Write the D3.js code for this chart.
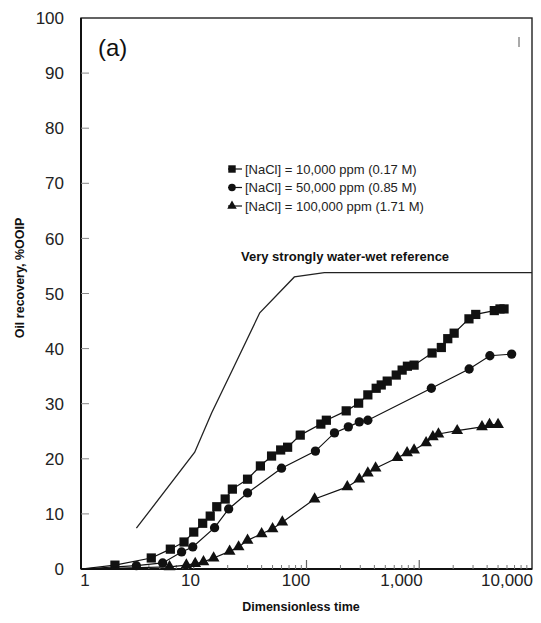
<!DOCTYPE html>
<meta charset="utf-8">
<style>
    body {
        margin: 0;
        background: #fff;
        font-family: "Liberation Sans", Arial, Helvetica, sans-serif;
    }
</style>
<body>
<script src="https://cdn.jsdelivr.net/npm/d3@7"></script>
<script>

// values (x = dimensionless time, y = %OOIP)
var reference = [[3.1, 7.4], [10.2, 21.2], [14.4, 28.3], [22, 36.1], [38.5, 46.5], [78, 53.0], [144, 53.8], [10000, 53.8]];

var low = [[1, 0], [2, 0.7], [4.2, 2.0], [6.2, 3.6], [8.2, 4.9], [10, 6.7], [12, 8.3], [14, 9.6], [16, 11.3],
    [19, 12.7], [22, 14.5], [30, 16.3], [39, 18.7], [49, 20.5], [59, 21.6], [68, 22.1], [88, 24.3],
    [134, 26.3], [150, 27.0], [225, 28.7], [290, 30.1], [350, 31.6], [415, 32.8], [460, 33.4], [520, 34.1],
    [625, 35.2], [705, 36.1], [785, 36.8], [900, 37.0], [1300, 39.2], [1570, 40.2], [1790, 41.8],
    [2040, 42.8], [2760, 45.4], [3170, 46.2], [4630, 46.9], [5200, 47.2], [5650, 47.2]];

var mid = [[1, 0], [3.1, 0.6], [5.3, 1.1], [7.8, 3.1], [9.8, 4.0], [15.3, 7.5], [20.4, 10.9], [30, 13.8],
    [60, 18.3], [120, 21.4], [177, 24.7], [235, 25.8], [294, 26.7], [350, 27.0], [1280, 32.8],
    [2770, 36.3], [4230, 38.7], [6600, 39.0]];

var high = [[1, 0], [6.1, 0.4], [8.6, 0.7], [10.3, 1.0], [12.2, 1.3], [15, 2.0], [20.8, 3.2], [25, 4.0],
    [30, 5.2], [40, 6.4], [50, 7.3], [61, 8.5], [118, 12.7], [230, 14.9], [294, 16.3], [350, 17.4],
    [410, 18.3], [640, 20.2], [780, 21.1], [900, 21.6], [1150, 22.9], [1320, 24.0], [1480, 24.5],
    [2170, 25.1], [3600, 25.8], [4200, 26.2], [5000, 26.2]];

var seriesNames = ["[NaCl] = 10,000 ppm (0.17 M)", "[NaCl] = 50,000 ppm (0.85 M)", "[NaCl] = 100,000 ppm (1.71 M)"];
var xTickValues = [1, 10, 100, 1000, 10000];
var xTickLabels = ["1", "10", "100", "1,000", "10,000"];
var yTickValues = [0, 10, 20, 30, 40, 50, 60, 70, 80, 90, 100];

var width = 541, height = 623;
var plotLeft = 81, plotRight = 532, plotTop = 18, plotBottom = 569;

var svg = d3.select("body").append("svg")
    .attr("width", width)
    .attr("height", height);

var x = d3.scaleLog().domain([1, 10000]).range([plotLeft, plotRight]);
// the scanned tick labels drift left of their ticks
var xLabel = d3.scaleLog().domain([1, 10000]).range([85, 507]);
var y = d3.scaleLinear().domain([0, 100]).range([plotBottom, plotTop]);

// frame
svg.append("rect")
    .attr("x", plotLeft).attr("y", plotTop)
    .attr("width", plotRight - plotLeft).attr("height", plotBottom - plotTop)
    .attr("fill", "none").attr("stroke", "#222").attr("stroke-width", 1.4);
svg.append("line")
    .attr("x1", plotLeft).attr("x2", plotLeft).attr("y1", plotTop).attr("y2", plotBottom)
    .attr("stroke", "#111").attr("stroke-width", 2);
svg.append("line")
    .attr("x1", plotLeft).attr("x2", plotRight).attr("y1", plotBottom).attr("y2", plotBottom)
    .attr("stroke", "#111").attr("stroke-width", 2);

// y ticks (inward) and labels
svg.selectAll(".ytick")
    .data(yTickValues.filter(function(d) { return d > 0 && d < 100; }))
  .enter().append("line")
    .attr("x1", plotLeft).attr("x2", plotLeft + 8)
    .attr("y1", function(d) { return y(d); })
    .attr("y2", function(d) { return y(d); })
    .attr("stroke", "#888").attr("stroke-width", 1);

svg.selectAll(".ylab")
    .data(yTickValues)
  .enter().append("text")
    .attr("x", 64)
    .attr("y", function(d) { return y(d); })
    .attr("dy", "0.36em")
    .attr("text-anchor", "end")
    .attr("font-size", 17)
    .attr("fill", "#222")
    .text(function(d) { return d; });

// x ticks: decades longer, minor shorter
var minor = [];
for (var dec = 1; dec < 10000; dec *= 10) {
    for (var k = 2; k <= 9; k++) minor.push(dec * k);
}
svg.selectAll(".xminor")
    .data(minor)
  .enter().append("line")
    .attr("x1", function(d) { return x(d); })
    .attr("x2", function(d) { return x(d); })
    .attr("y1", plotBottom).attr("y2", plotBottom - 4)
    .attr("stroke", "#777").attr("stroke-width", 1);
svg.selectAll(".xmajor")
    .data(xTickValues.slice(1, 4))
  .enter().append("line")
    .attr("x1", function(d) { return x(d); })
    .attr("x2", function(d) { return x(d); })
    .attr("y1", plotBottom).attr("y2", plotBottom - 9)
    .attr("stroke", "#666").attr("stroke-width", 1.2);

svg.selectAll(".xlab")
    .data(xTickValues)
  .enter().append("text")
    .attr("x", function(d) { return xLabel(d); })
    .attr("y", 586)
    .attr("text-anchor", "middle")
    .attr("font-size", 17)
    .attr("fill", "#222")
    .text(function(d, i) { return xTickLabels[i]; });

// axis titles
svg.append("text")
    .attr("x", 301).attr("y", 611)
    .attr("text-anchor", "middle")
    .attr("font-size", 12.5).attr("font-weight", "bold")
    .attr("fill", "#111")
    .text("Dimensionless time");
svg.append("text")
    .attr("transform", "translate(24,278) rotate(-90)")
    .attr("text-anchor", "middle")
    .attr("font-size", 12.5).attr("font-weight", "bold")
    .attr("fill", "#111")
    .text("Oil recovery, %OOIP");

// panel label
svg.append("text")
    .attr("x", 98).attr("y", 56)
    .attr("font-size", 24)
    .attr("fill", "#111")
    .text("(a)");

// small scan mark top right
svg.append("line")
    .attr("x1", 519).attr("x2", 519).attr("y1", 37).attr("y2", 47)
    .attr("stroke", "#555").attr("stroke-width", 1);

var line = d3.line()
    .x(function(d) { return x(d[0]); })
    .y(function(d) { return y(d[1]); });

// reference curve
svg.append("path")
    .datum(reference)
    .attr("d", line)
    .attr("fill", "none").attr("stroke", "#222").attr("stroke-width", 1.3);
svg.append("text")
    .attr("x", 241).attr("y", 261)
    .attr("font-size", 13).attr("font-weight", "bold")
    .attr("fill", "#111")
    .text("Very strongly water-wet reference");

// experimental series
var shapes = [d3.symbolSquare, d3.symbolCircle, d3.symbolTriangle];
var sizes = [85, 68, 60];
var allSeries = [low, mid, high];

allSeries.forEach(function(data, i) {
    svg.append("path")
        .datum(data)
        .attr("d", line)
        .attr("fill", "none").attr("stroke", "#111").attr("stroke-width", 1.2);
    svg.selectAll(".m" + i)
        .data(data.slice(1))
      .enter().append("path")
        .attr("transform", function(d) { return "translate(" + x(d[0]) + "," + y(d[1]) + ")"; })
        .attr("d", d3.symbol().type(shapes[i]).size(sizes[i]))
        .attr("fill", "#111");
});

// legend
var legend = svg.selectAll(".legend")
    .data(seriesNames)
  .enter().append("g")
    .attr("transform", function(d, i) { return "translate(232," + (169 + i * 18.5) + ")"; });
legend.append("line")
    .attr("x1", -4).attr("x2", 10)
    .attr("stroke", "#111").attr("stroke-width", 1.2);
legend.append("path")
    .attr("d", function(d, i) { return d3.symbol().type(shapes[i]).size(sizes[i] * 0.65)(); })
    .attr("fill", "#111");
legend.append("text")
    .attr("x", 13)
    .attr("dy", "0.35em")
    .attr("font-size", 13)
    .attr("fill", "#222")
    .text(function(d) { return d; });

</script>
</body>
